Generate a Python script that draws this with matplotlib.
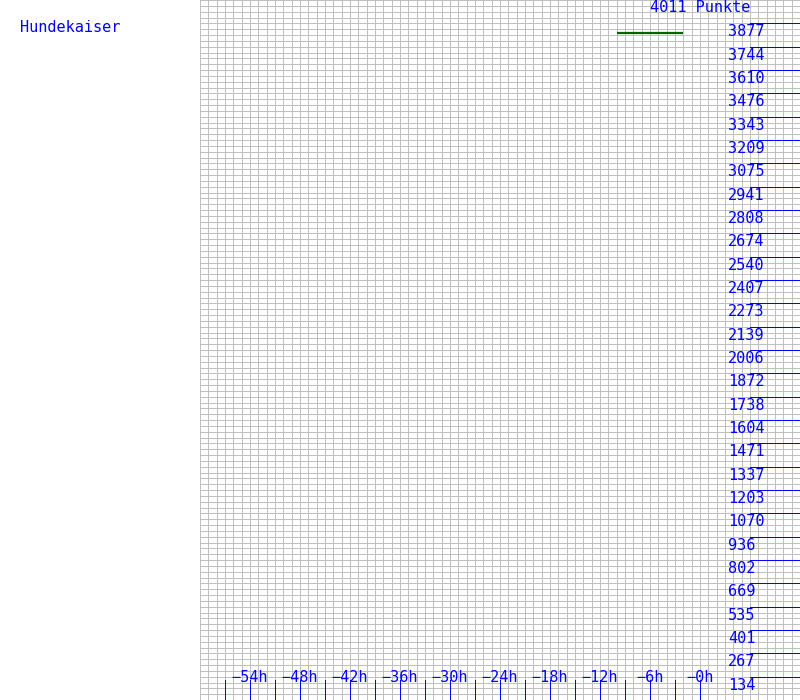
import numpy as np
import matplotlib
matplotlib.use("Agg")
import matplotlib.pyplot as plt

# ---- data ----
player = "Hundekaiser"
max_points = 4011
title_label = "4011 Punkte"

# score axis labels (right side)
score_ticks = [134, 267, 401, 535, 669, 802, 936, 1070, 1203, 1337, 1471,
               1604, 1738, 1872, 2006, 2139, 2273, 2407, 2540, 2674, 2808,
               2941, 3075, 3209, 3343, 3476, 3610, 3744, 3877]

# hour axis (bottom)
hour_ticks = [-57, -54, -51, -48, -45, -42, -39, -36, -33, -30, -27, -24,
              -21, -18, -15, -12, -9, -6, -3, 0]
hour_labels = [-54, -48, -42, -36, -30, -24, -18, -12, -6, 0]

# points history
hist_hours = [-10, -2]
hist_points = [3822, 3822]

blue = "#0000ff"
grey = "#c0c0c0"
font = "DejaVu Sans Mono"
fs = 11
px = 0.72  # one pixel at 100 dpi

fig = plt.figure(figsize=(8, 7), dpi=100)
fig.patch.set_facecolor("white")
ax = fig.add_axes([0.25, 0, 0.75, 1])
ax.set_xlim(-60, 12)
ax.set_ylim(0, max_points)
ax.set_axis_off()

# grid: one column per hour, 120 rows
ax.vlines(np.arange(-60, 12), 0, max_points, color=grey, lw=px, antialiased=False, zorder=1)
ax.hlines(np.linspace(0, max_points, 121), -60, 12, color=grey, lw=px, antialiased=False, zorder=1)

# right side score markers
ax.hlines(score_ticks, 6, 12, color=blue, lw=px, antialiased=False, zorder=2)
for v in score_ticks:
    ax.annotate(str(v), (3.4, v), xytext=(0, -1), textcoords="offset pixels",
                ha="left", va="top", color=blue, fontsize=fs, family=font, zorder=3)

# bottom hour ticks
ax.vlines(hour_ticks, 0, 20 / 700, color=blue, lw=px, antialiased=False,
          transform=ax.get_xaxis_transform(), zorder=2)
for h in hour_labels:
    ax.text(h, 23 / 700, f"\u2212{abs(h)}h", transform=ax.get_xaxis_transform(),
            ha="center", va="center", color=blue, fontsize=fs, family=font, zorder=3)

# history line
ax.plot(hist_hours, hist_points, color="#006400", lw=1.6, solid_capstyle="butt", zorder=4)

# labels
ax.text(0, 1 - 7 / 700, title_label, transform=ax.get_xaxis_transform(),
        ha="center", va="center", color=blue, fontsize=fs, family=font)
fig.text(20 / 800, 1 - 28 / 700, player, ha="left", va="center",
         color=blue, fontsize=fs, family=font)

fig.savefig("out.png", dpi=100, facecolor="white")
